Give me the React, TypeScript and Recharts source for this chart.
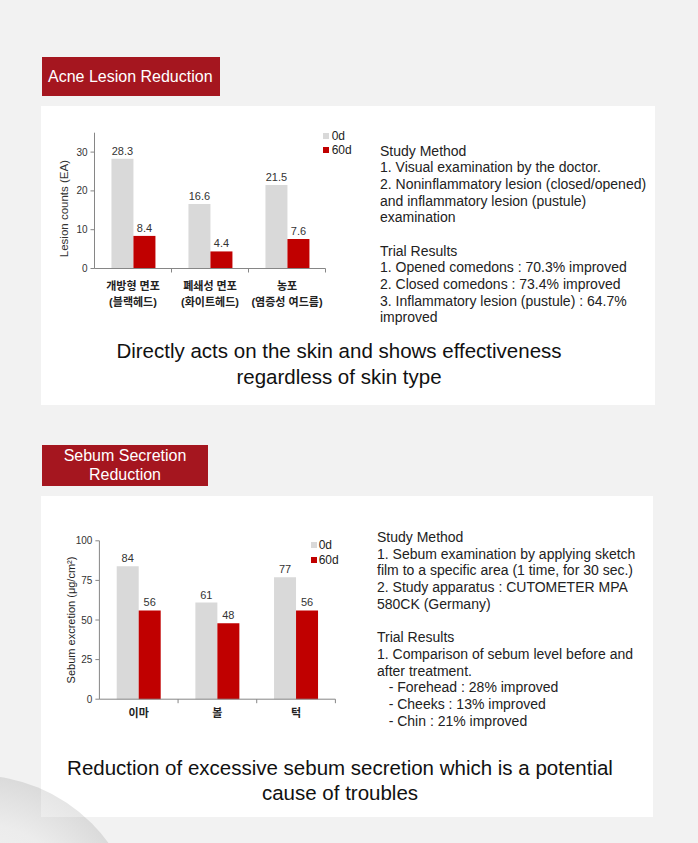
import { Bar, BarChart, LabelList, Legend, XAxis, YAxis } from "recharts";

// acne lesion chart
const acneCategories = ["개방형 면포\n(블랙헤드)", "폐쇄성 면포\n(화이트헤드)", "농포\n(염증성 여드름)"];
const acneDay0 = [28.3, 16.6, 21.5];
const acneDay60 = [8.4, 4.4, 7.6];
const acneTicks = [0, 10, 20, 30];

// sebum chart
const sebumCategories = ["이마", "볼", "턱"];
const sebumDay0 = [84, 61, 77];
const sebumDay60 = [56, 48, 56];
const sebumTicks = [0, 25, 50, 75, 100];

const seriesNames = ["0d", "60d"];

const acneMethod = [
  "Study Method",
  "1. Visual examination by the doctor.",
  "2. Noninflammatory lesion (closed/opened)",
  "and inflammatory lesion (pustule)",
  "examination",
  "",
  "Trial Results",
  "1. Opened comedons : 70.3% improved",
  "2. Closed comedons : 73.4% improved",
  "3. Inflammatory lesion (pustule) : 64.7%",
  "improved",
];

const sebumMethod = [
  "Study Method",
  "1. Sebum examination by applying sketch",
  "film to a specific area (1 time, for 30 sec.)",
  "2. Study apparatus : CUTOMETER MPA",
  "580CK (Germany)",
  "",
  "Trial Results",
  "1. Comparison of sebum level before and",
  "after treatment.",
  "   - Forehead : 28% improved",
  "   - Cheeks : 13% improved",
  "   - Chin : 21% improved",
];

const GREY = "#d9d9d9";
const RED = "#c00000";
const AXIS = "#868686";
const LABEL_RED = "#a5161f";
const FONT = "'Liberation Sans', Arial, 'Noto Sans CJK KR', sans-serif";

const acneData = acneCategories.map((name, i) => ({ name, d0: acneDay0[i], d60: acneDay60[i] }));
const sebumData = sebumCategories.map((name, i) => ({ name, d0: sebumDay0[i], d60: sebumDay60[i] }));

const makeCategoryTick = (bandWidth: number, firstBaseline: number, lineGap: number) => (props: any) => {
  const { x, y, payload } = props;
  const lines = String(payload.value).split("\n");
  return (
    <g>
      <line x1={x + bandWidth / 2} x2={x + bandWidth / 2} y1={y} y2={y + 4} stroke={AXIS} />
      {lines.map((l, i) => (
        <text
          key={i}
          x={x}
          y={y + firstBaseline + i * lineGap}
          textAnchor="middle"
          fontSize={11}
          fontWeight="bold"
          fill="#222"
          fontFamily={FONT}
        >
          {l}
        </text>
      ))}
    </g>
  );
};

const makeLegend = (rowH: number, gap: number) => (props: any) => (
  <div style={{ fontFamily: FONT, fontSize: 12, color: "#222" }}>
    {(props.payload || []).map((entry: any) => (
      <div key={entry.value} style={{ display: "flex", alignItems: "center", height: rowH }}>
        <span style={{ width: 6, height: 6, background: entry.color, marginRight: gap, display: "inline-block" }} />
        {entry.value}
      </div>
    ))}
  </div>
);

const AcneChart = () => {
  const W = 330;
  const H = 200;
  const m = { top: 12.7, right: 44.5, bottom: 11.5, left: 0 };
  const yW = 54.5;
  const band = (W - m.left - m.right - yW) / acneCategories.length;
  return (
    <BarChart width={W} height={H} data={acneData} margin={m} barCategoryGap="22%" barGap={0}>
      <XAxis
        dataKey="name"
        height={40}
        tickSize={0}
        tickMargin={0}
        interval={0}
        tickLine={false}
        axisLine={{ stroke: AXIS }}
        tick={makeCategoryTick(band, 21.5, 16)}
      />
      <YAxis
        domain={[0, 35]}
        ticks={acneTicks}
        width={yW}
        tickSize={4}
        tickMargin={3}
        axisLine={{ stroke: AXIS }}
        tickLine={{ stroke: AXIS }}
        tick={{ fontSize: 10, fill: "#333", fontFamily: FONT }}
        label={{
          value: "Lesion counts (EA)",
          angle: -90,
          position: "insideLeft",
          offset: 24,
          dy: 8,
          style: { textAnchor: "middle", fontSize: 11.5, fill: "#333", fontFamily: FONT },
        }}
      />
      <Legend
        layout="vertical"
        align="center"
        verticalAlign="middle"
        content={makeLegend(14, 3)}
        wrapperStyle={{ top: 8.7, left: 282.7, width: 46 }}
      />
      <Bar dataKey="d0" name={seriesNames[0]} fill={GREY} isAnimationActive={false}>
        <LabelList dataKey="d0" position="top" offset={4} style={{ fontSize: 11, fill: "#333", fontFamily: FONT }} />
      </Bar>
      <Bar dataKey="d60" name={seriesNames[1]} fill={RED} isAnimationActive={false}>
        <LabelList dataKey="d60" position="top" offset={4} style={{ fontSize: 11, fill: "#333", fontFamily: FONT }} />
      </Bar>
    </BarChart>
  );
};

const SebumChart = () => {
  const W = 330;
  const H = 210;
  const m = { top: 20.8, right: 34.6, bottom: 5.8, left: 0 };
  const yW = 59.4;
  const band = (W - m.left - m.right - yW) / sebumCategories.length;
  return (
    <BarChart width={W} height={H} data={sebumData} margin={m} barCategoryGap="22%" barGap={0}>
      <XAxis
        dataKey="name"
        height={25}
        tickSize={0}
        tickMargin={0}
        interval={0}
        tickLine={false}
        axisLine={{ stroke: AXIS }}
        tick={makeCategoryTick(band, 18, 16)}
      />
      <YAxis
        domain={[0, 100]}
        ticks={sebumTicks}
        width={yW}
        tickSize={4}
        tickMargin={3}
        axisLine={{ stroke: AXIS }}
        tickLine={{ stroke: AXIS }}
        tick={{ fontSize: 10, fill: "#333", fontFamily: FONT }}
        label={{
          value: "Sebum excretion (μg/cm²)",
          angle: -90,
          position: "insideLeft",
          offset: 31,
          style: { textAnchor: "middle", fontSize: 11, fill: "#222", fontFamily: FONT },
        }}
      />
      <Legend
        layout="vertical"
        align="center"
        verticalAlign="middle"
        content={makeLegend(15.6, 2)}
        wrapperStyle={{ top: 17, left: 270.7, width: 50 }}
      />
      <Bar dataKey="d0" name={seriesNames[0]} fill={GREY} isAnimationActive={false}>
        <LabelList dataKey="d0" position="top" offset={4} style={{ fontSize: 11, fill: "#333", fontFamily: FONT }} />
      </Bar>
      <Bar dataKey="d60" name={seriesNames[1]} fill={RED} isAnimationActive={false}>
        <LabelList dataKey="d60" position="top" offset={4} style={{ fontSize: 11, fill: "#333", fontFamily: FONT }} />
      </Bar>
    </BarChart>
  );
};

const TextBlock = ({ lines, left, top }: { lines: string[]; left: number; top: number }) => (
  <div
    style={{
      position: "absolute",
      left,
      top,
      fontSize: 14,
      lineHeight: "16.7px",
      color: "#222",
      whiteSpace: "pre",
    }}
  >
    {lines.map((l, i) => (
      <div key={i} style={{ height: 16.7 }}>
        {l}
      </div>
    ))}
  </div>
);

export default function App() {
  return (
    <div
      style={{
        position: "absolute",
        left: 0,
        top: 0,
        width: 698,
        height: 843,
        overflow: "hidden",
        background: "#f2f2f2",
        fontFamily: FONT,
      }}
    >
      {/* section 1 */}
      <div
        style={{
          position: "absolute",
          left: 42,
          top: 57,
          width: 178,
          height: 39,
          background: LABEL_RED,
          color: "#fff",
          fontSize: 16,
          lineHeight: "39px",
          paddingLeft: 6,
          boxSizing: "border-box",
        }}
      >
        Acne Lesion Reduction
      </div>
      <div style={{ position: "absolute", left: 41, top: 106, width: 614, height: 299, background: "#fff" }} />
      <div style={{ position: "absolute", left: 40, top: 120 }}>
        <AcneChart />
      </div>
      <TextBlock lines={acneMethod} left={380} top={142.5} />
      <div
        style={{
          position: "absolute",
          left: 60,
          top: 338,
          width: 558,
          textAlign: "center",
          fontSize: 20.5,
          lineHeight: "26px",
          color: "#111",
        }}
      >
        Directly acts on the skin and shows effectiveness
        <br />
        regardless of skin type
      </div>

      {/* section 2 */}
      <div
        style={{
          position: "absolute",
          left: 42,
          top: 445,
          width: 166,
          height: 41,
          background: LABEL_RED,
          color: "#fff",
          fontSize: 16,
          lineHeight: "19px",
          paddingTop: 1,
          textAlign: "center",
          boxSizing: "border-box",
        }}
      >
        Sebum Secretion
        <br />
        Reduction
      </div>
      <div style={{ position: "absolute", left: 41, top: 496, width: 612, height: 321, background: "#fff" }} />
      <div style={{ position: "absolute", left: 40, top: 520 }}>
        <SebumChart />
      </div>
      <TextBlock lines={sebumMethod} left={377} top={529} />
      <div
        style={{
          position: "absolute",
          left: 20,
          top: 755,
          width: 640,
          textAlign: "center",
          fontSize: 20.5,
          lineHeight: "25px",
          color: "#111",
        }}
      >
        Reduction of excessive sebum secretion which is a potential
        <br />
        cause of troubles
      </div>

      {/* decorative circle bottom-left */}
      <div
        style={{
          position: "absolute",
          left: -190,
          top: 775,
          width: 330,
          height: 330,
          borderRadius: "50%",
          background:
            "radial-gradient(circle at 50% 50%, rgba(255,255,255,0.4) 0%, rgba(230,230,230,0.5) 50%, rgba(0,0,0,0.1) 72%, rgba(0,0,0,0.18) 90%, rgba(0,0,0,0.15) 100%)",
        }}
      />
    </div>
  );
}
